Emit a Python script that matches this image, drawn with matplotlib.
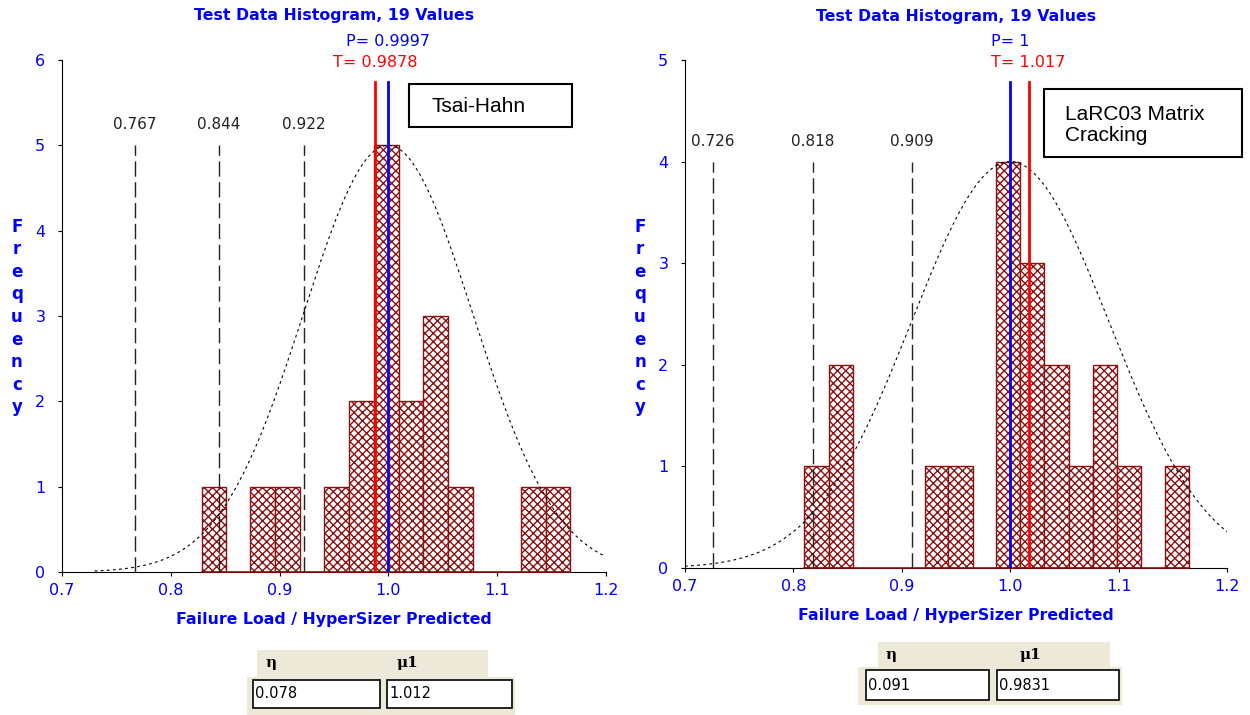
import numpy as np
import matplotlib
matplotlib.use('Agg')
import matplotlib.pyplot as plt
from matplotlib.patches import Rectangle
from matplotlib.transforms import blended_transform_factory

# ---- data ----
# left chart: Tsai-Hahn
th_edges = [0.8284, 0.8504, 0.8731, 0.8958, 0.9185, 0.9411, 0.9638, 0.9865, 1.0093, 1.0318, 1.0545, 1.0775, 1.1216, 1.1446, 1.1672]
th_counts = [1, 0, 1, 1, 0, 1, 2, 5, 2, 3, 1, 0, 1, 1]
th_P = 0.9997
th_T = 0.9878
th_sigma_lines = [0.767, 0.844, 0.922]
th_eta = '0.078'
th_mu = '1.012'

# right chart: LaRC03 matrix cracking
lc_edges = [0.8098, 0.8325, 0.8546, 0.8768, 0.8990, 0.9211, 0.9430, 0.9654, 0.9868, 1.0093, 1.0315, 1.0540, 1.0767, 1.0985, 1.1209, 1.1425, 1.1649]
lc_counts = [1, 2, 0, 0, 0, 1, 1, 0, 4, 3, 2, 1, 2, 1, 0, 1]
lc_P = 1.0
lc_T = 1.017
lc_sigma_lines = [0.726, 0.818, 0.909]
lc_eta = '0.091'
lc_mu = '0.9831'

BLUE = '#0000ff'
RED = '#ff0000'
DKRED = '#8b1010'
plt.rcParams['hatch.color'] = DKRED

W, H = 1250, 715
fig = plt.figure(figsize=(12.5, 7.15), dpi=100)


def px(x0, y0, x1, y1):
    # pixel box -> figure fraction rect
    return [x0 / W, 1 - y1 / H, (x1 - x0) / W, (y1 - y0) / H]


def hist_panel(rect, edges, counts, P, T, sig_lines, ymax, curve_rng, label_txt, box, box_txt_xy):
    ax = fig.add_axes(rect)
    edges = np.array(edges)
    counts = np.array(counts)
    mean, sd = P, P - sig_lines[2]
    for i, c in enumerate(counts):
        if c > 0:
            ax.bar(edges[i], c, width=edges[i + 1] - edges[i], align='edge',
                   facecolor='white', edgecolor=DKRED, hatch='xxxx', linewidth=1.0, zorder=2)
    ax.plot([edges[0], edges[-1]], [0, 0], color=DKRED, lw=1.2, zorder=3, clip_on=False)

    peak = counts.max()
    xs = np.linspace(curve_rng[0], curve_rng[1], 300)
    ax.plot(xs, peak * np.exp(-0.5 * ((xs - mean) / sd) ** 2), color='black',
            lw=0.8, linestyle=(0, (2.5, 3)), zorder=4)

    for v in sig_lines:
        ax.plot([v, v], [0, peak], color='#222222', lw=1.0, linestyle=(0, (11, 4)), zorder=4)
        ax.text(v, peak + 0.2 * ymax / 5, f'{v:.3f}', ha='center', va='center',
                fontsize=11, color='#222222')

    ax.axvline(T, ymin=0, ymax=0.957, color=RED, lw=2, zorder=5)
    ax.axvline(P, ymin=0, ymax=0.957, color=BLUE, lw=2, zorder=6)
    tr = blended_transform_factory(ax.transData, ax.transAxes)
    ax.text(P, 1.037, f'P= {P:g}', transform=tr, ha='center', va='center', color=BLUE, fontsize=11.5)
    ax.text(T, 0.995, f'T= {T:g}', transform=tr, ha='center', va='center', color=RED, fontsize=11.5)
    ax.text(0.5, 1.086, 'Test Data Histogram, 19 Values', transform=ax.transAxes,
            ha='center', va='center', color=BLUE, fontsize=11.3, fontweight='bold')

    ax.set_xlim(0.7, 1.2)
    ax.set_ylim(0, ymax)
    ax.set_xticks([0.7, 0.8, 0.9, 1.0, 1.1, 1.2])
    ax.set_xticklabels(['0.7', '0.8', '0.9', '1.0', '1.1', '1.2'])
    ax.set_yticks(range(ymax + 1))
    ax.tick_params(colors='black', labelcolor=BLUE, labelsize=11.5, length=3, direction='out')
    ax.tick_params(axis='y', pad=9)
    ax.tick_params(axis='x', pad=5)
    ax.spines['top'].set_visible(False)
    ax.spines['right'].set_visible(False)
    ax.set_xlabel('Failure Load / HyperSizer Predicted', color=BLUE, fontsize=11.3,
                  fontweight='bold', labelpad=10)

    # the labelled box
    fig.patches.append(Rectangle((box[0] / W, 1 - box[3] / H), (box[2] - box[0]) / W,
                                 (box[3] - box[1]) / H, transform=fig.transFigure,
                                 facecolor='white', edgecolor='black', lw=1.5, zorder=10))
    fig.text(box_txt_xy[0] / W, 1 - box_txt_xy[1] / H, label_txt, fontsize=15,
             family='Liberation Sans', va='center', ha='left', linespacing=1.15, zorder=11)
    return ax


hist_panel(px(62, 60, 606, 572), th_edges, th_counts, th_P, th_T, th_sigma_lines, 6,
           (0.73, 1.198), 'Tsai-Hahn', (409, 84, 572, 127), (431, 106))
hist_panel(px(685, 60, 1227, 568), lc_edges, lc_counts, lc_P, lc_T, lc_sigma_lines, 5,
           (0.70, 1.205), 'LaRC03 Matrix\nCracking', (1044, 89, 1242, 157), (1065, 125))

# vertical "Frequency" labels
for xlab in (17, 640):
    fig.text(xlab / W, 1 - 317 / H, '\n'.join('Frequency'), color=BLUE, fontsize=12,
             fontweight='bold', ha='center', va='center', linespacing=1.33)


def param_table(hdr, row, b1, b2, eta, mu, hx):
    beige = '#ece9d8'
    for (x0, y0, x1, y1) in (hdr, row):
        fig.patches.append(Rectangle((x0 / W, 1 - y1 / H), (x1 - x0) / W, (y1 - y0) / H,
                                     transform=fig.transFigure, facecolor=beige,
                                     edgecolor='none', zorder=1))
    for (x0, y0, x1, y1), val in ((b1, eta), (b2, mu)):
        fig.patches.append(Rectangle((x0 / W, 1 - y1 / H), (x1 - x0) / W, (y1 - y0) / H,
                                     transform=fig.transFigure, facecolor='white',
                                     edgecolor='black', lw=1.2, zorder=2))
        fig.text((x0 + 2) / W, 1 - (y0 + y1) / 2 / H, val, fontsize=10.5, va='center',
                 ha='left', zorder=3)
    yh = 1 - (hdr[1] + hdr[3]) / 2 / H
    fig.text(hx[0] / W, yh, 'η', fontsize=11, fontweight='bold', family='DejaVu Serif',
             va='center', ha='left')
    fig.text(hx[1] / W, yh, 'μ1', fontsize=11, fontweight='bold', family='DejaVu Serif',
             va='center', ha='left')


param_table((257, 650, 488, 677), (247, 677, 515, 715), (253, 680, 380, 708),
            (387, 680, 512, 708), th_eta, th_mu, (265, 397))
param_table((878, 642, 1110, 667), (858, 667, 1122, 705), (866, 670, 989, 700),
            (997, 670, 1119, 700), lc_eta, lc_mu, (886, 1020))

fig.savefig('out.png', dpi=100)
